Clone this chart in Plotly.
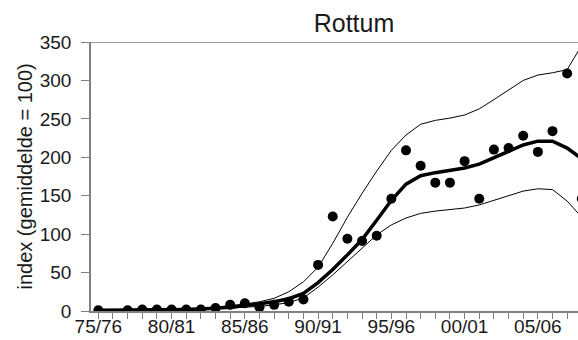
import plotly.graph_objects as go

seasons = ["75/76", "76/77", "77/78", "78/79", "79/80", "80/81", "81/82", "82/83", "83/84", "84/85",
           "85/86", "86/87", "87/88", "88/89", "89/90", "90/91", "91/92", "92/93", "93/94", "94/95",
           "95/96", "96/97", "97/98", "98/99", "99/00", "00/01", "01/02", "02/03", "03/04", "04/05",
           "05/06", "06/07", "07/08", "08/09"]
labelled = ["75/76", "80/81", "85/86", "90/91", "95/96", "00/01", "05/06"]

observed = [1, None, 1, 2, 2, 2, 2, 2, 4, 8,
            10, 5, 8, 12, 15, 60, 123, 94, 91, 98,
            146, 209, 189, 167, 167, 195, 146, 210, 212, 228,
            207, 234, 309, 146]
trend = [1, 1, 1, 1.5, 1.5, 2, 2, 2.5, 3.5, 5,
         7, 9, 12, 16, 23, 37, 54, 73, 93, 118,
         144, 165, 176, 180, 183, 186, 191, 199, 208, 216,
         221, 221, 212, 198]
upper = [1, 1, 1.5, 2, 2, 2.5, 3, 4, 5, 7,
         9, 12, 16.5, 25, 38, 57, 88, 122, 153, 182,
         209, 229, 243, 248, 251, 255, 263, 275, 288, 300,
         307, 310, 314, 346]
lower = [0.5, 0.5, 0.5, 1, 1, 1, 1.5, 2, 2.5, 3.5,
         5, 6, 8, 11, 17, 31, 47, 64, 81, 99,
         112, 121, 127, 130, 132, 134, 138, 144, 151, 156,
         159, 158, 143, 122]

fig = go.Figure()
for ys in (upper, lower):
    fig.add_trace(go.Scatter(x=seasons, y=ys, mode="lines",
                             line=dict(color="#000000", width=1), showlegend=False))
fig.add_trace(go.Scatter(x=seasons, y=trend, mode="lines",
                         line=dict(color="#000000", width=3.5), showlegend=False))
fig.add_trace(go.Scatter(x=seasons, y=observed, mode="markers",
                         marker=dict(color="#000000", size=10, line=dict(width=0)),
                         showlegend=False))

font = "Liberation Sans, Arial, sans-serif"
fig.update_layout(
    width=578, height=340,
    margin=dict(l=91, r=0, t=42, b=29, autoexpand=False),
    plot_bgcolor="white", paper_bgcolor="white",
    font=dict(family=font, color="#1a1a1a", size=19),
    title=dict(text="Rottum", x=354/578, xanchor="center", xref="container",
               y=1-23/340, yanchor="middle", yref="container",
               font=dict(size=25, family=font, color="#1a1a1a")),
    xaxis=dict(type="category", range=[-0.5, 32.74], automargin=False,
               tickmode="array", tickvals=seasons,
               ticktext=[s if s in labelled else "" for s in seasons],
               ticks="outside", ticklen=6, tickcolor="#808080", tickwidth=1,
               ticklabelstandoff=-9,
               showline=True, linecolor="#808080", linewidth=1.5,
               showgrid=False, zeroline=False,
               tickfont=dict(size=19, family=font, color="#1a1a1a")),
    yaxis=dict(range=[0, 350], tickvals=[0, 50, 100, 150, 200, 250, 300, 350],
               automargin=False,
               ticks="outside", ticklen=8, tickcolor="#808080", tickwidth=1,
               ticklabelstandoff=6,
               showline=True, linecolor="#808080", linewidth=1.5,
               showgrid=False, zeroline=False,
               tickfont=dict(size=19, family=font, color="#1a1a1a")),
    shapes=[dict(type="line", xref="paper", yref="y", x0=0, x1=1, y0=350, y1=350,
                 line=dict(color="#404040", width=1))],
    annotations=[dict(text="index (gemiddelde = 100)", textangle=-90,
                      xref="paper", yref="paper", x=(24-91)/487, y=0.5,
                      xanchor="center", yanchor="middle", showarrow=False,
                      font=dict(size=20, family=font, color="#1a1a1a"))],
)

fig.write_html("out.html", config={"displayModeBar": False},
               post_script="document.body.style.margin='0';document.body.style.overflow='hidden';")
